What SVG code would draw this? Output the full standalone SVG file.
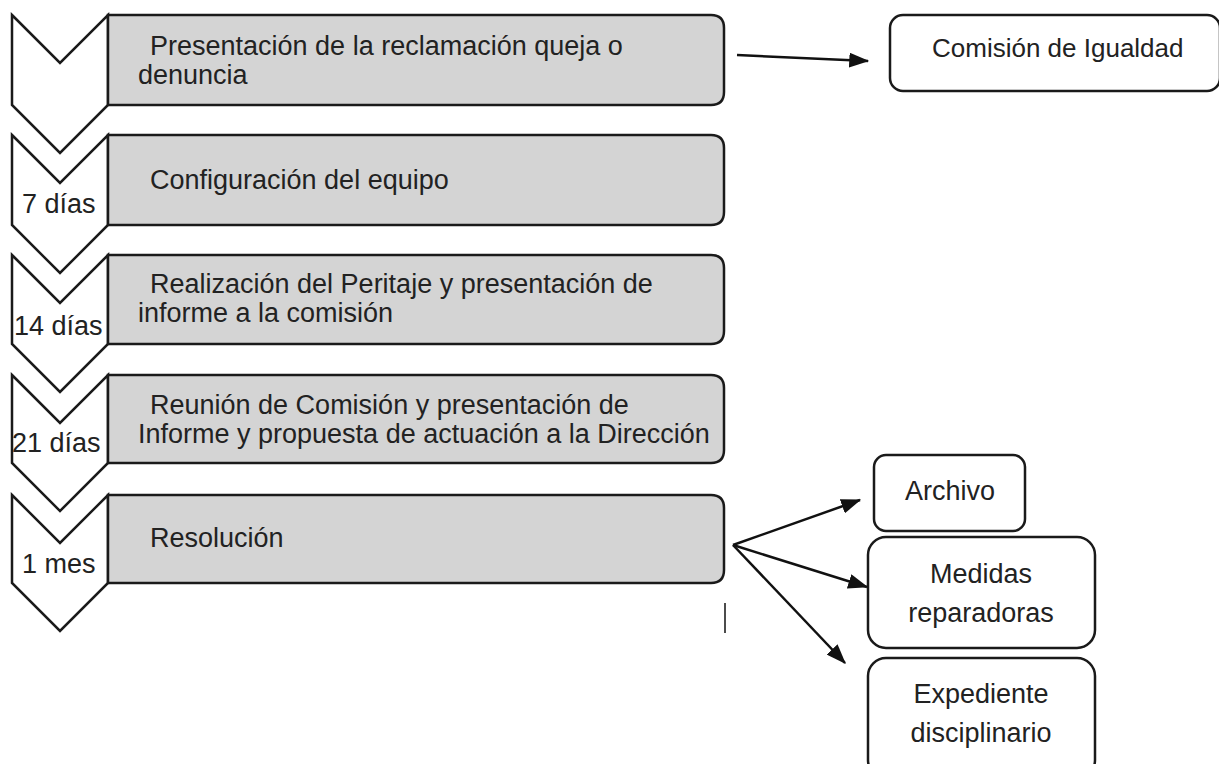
<svg xmlns="http://www.w3.org/2000/svg" width="1219" height="764" viewBox="0 0 1219 764">
<style>
.chev{fill:#fff;stroke:#1a1a1a;stroke-width:2.5;stroke-linejoin:miter}
.step{fill:#d4d4d4;stroke:#1a1a1a;stroke-width:2.5}
.box{fill:#fff;stroke:#1a1a1a;stroke-width:2.5}
text{font-family:"Liberation Sans",Arial,sans-serif;font-size:27px;fill:#222}
.c{text-anchor:middle}
.conn{stroke:#111;stroke-width:2.5;fill:none}
</style>
<defs>
<marker id="ah" markerWidth="8" markerHeight="6" refX="7.5" refY="3" orient="auto" markerUnits="strokeWidth">
<path d="M0,0 L8,3 L0,6 Z" fill="#111"/>
</marker>
</defs>
<rect width="1219" height="764" fill="#fff"/>

<g id="step1">
<path class="chev" d="M12,15 L60,63 L108,15 L108,105 L60,153 L12,105 Z"/>
<path class="step" d="M108,15 H711 Q724,15 724,28 V92 Q724,105 711,105 H108 Z"/>
<text x="150" y="55">Presentación de la reclamación queja o</text>
<text x="138" y="84">denuncia</text>
</g>
<g id="step2">
<path class="chev" d="M12,135 L60,183 L108,135 L108,225 L60,273 L12,225 Z"/>
<path class="step" d="M108,135 H711 Q724,135 724,148 V212 Q724,225 711,225 H108 Z"/>
<text x="150" y="189">Configuración del equipo</text>
<text x="22" y="213">7 días</text>
</g>
<g id="step3">
<path class="chev" d="M12,255 L60,303 L108,255 L108,344 L60,392 L12,344 Z"/>
<path class="step" d="M108,255 H711 Q724,255 724,268 V331 Q724,344 711,344 H108 Z"/>
<text x="150" y="293">Realización del Peritaje y presentación de</text>
<text x="138" y="322">informe a la comisión</text>
<text x="14" y="335">14 días</text>
</g>
<g id="step4">
<path class="chev" d="M12,375 L60,423 L108,375 L108,463 L60,511 L12,463 Z"/>
<path class="step" d="M108,375 H711 Q724,375 724,388 V450 Q724,463 711,463 H108 Z"/>
<text x="150" y="414">Reunión de Comisión y presentación de</text>
<text x="138" y="443">Informe y propuesta de actuación a la Dirección</text>
<text x="12" y="452">21 días</text>
</g>
<g id="step5">
<path class="chev" d="M12,495 L60,543 L108,495 L108,583 L60,631 L12,583 Z"/>
<path class="step" d="M108,495 H711 Q724,495 724,508 V570 Q724,583 711,583 H108 Z"/>
<text x="150" y="547">Resolución</text>
<text x="22" y="573">1 mes</text>
</g>

<g id="comision">
<rect class="box" x="890" y="15" width="330" height="76" rx="13"/>
<text x="932" y="57" style="font-size:26px">Comisión de Igualdad</text>
</g>
<g id="archivo">
<rect class="box" x="874" y="455" width="151" height="76" rx="12"/>
<text class="c" x="950" y="500">Archivo</text>
</g>
<g id="medidas">
<rect class="box" x="868" y="537" width="227" height="111" rx="18"/>
<text class="c" x="981" y="583">Medidas</text>
<text class="c" x="981" y="622">reparadoras</text>
</g>
<g id="expediente">
<rect class="box" x="868" y="658" width="227" height="120" rx="18"/>
<text class="c" x="981" y="703">Expediente</text>
<text class="c" x="981" y="742">disciplinario</text>
</g>

<g id="connectors">
<line class="conn" x1="737" y1="55" x2="868" y2="61" marker-end="url(#ah)"/>
<line class="conn" x1="733" y1="545" x2="860" y2="500" marker-end="url(#ah)"/>
<line class="conn" x1="733" y1="545" x2="867" y2="587" marker-end="url(#ah)"/>
<line class="conn" x1="733" y1="545" x2="845" y2="663" marker-end="url(#ah)"/>
<line stroke="#111" stroke-width="1.5" x1="725" y1="603" x2="725" y2="633"/>
</g>
</svg>
